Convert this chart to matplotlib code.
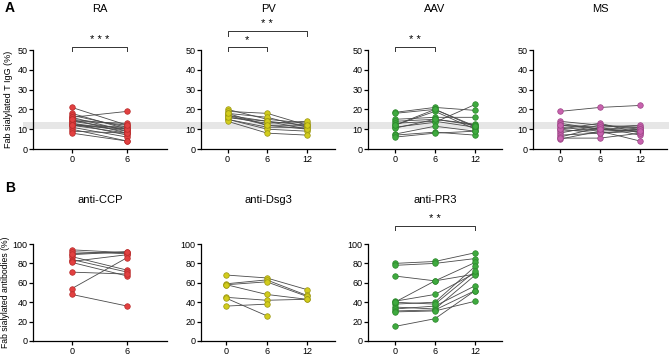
import numpy as np
import matplotlib
matplotlib.use("Agg")
import matplotlib.pyplot as plt
import matplotlib.transforms as mtransforms
from matplotlib.patches import Rectangle

plt.rcParams['font.family'] = ['Liberation Sans', 'DejaVu Sans']

# ---------------------------
# Data
# ---------------------------
# each row = one patient, columns = months
ra_months = [0, 6]
ra_vals = [[21, 12], [18, 10], [17, 11], [16, 19], [16, 9], [15, 8], [14, 13],
           [14, 10], [13, 9], [13, 7], [12, 11], [12, 8], [11, 6], [10, 4],
           [9, 8], [8, 4], [12, 10], [15, 12]]

pv_months = [0, 6, 12]
pv_vals = [[20, 15, 13], [19, 18, 12], [18, 16, 11], [17, 14, 12], [17, 12, 10],
           [16, 13, 14], [15, 11, 11], [15, 10, 9], [14, 8, 7], [16, 14, 10],
           [18, 12, 12]]

aav_months = [0, 6, 12]
aav_vals = [[18.5, 21, 19.5], [18, 20, 11], [15, 16, 16], [14, 15, 12.5],
            [13, 14, 11], [12, 19, 10], [11, 13.5, 22.5], [10.5, 15, 12],
            [7.5, 11.5, 9], [7, 8.5, 7], [6, 8, 9], [12, 20, 11.5]]

ms_months = [0, 6, 12]
ms_vals = [[19, 21, 22], [14, 12, 11], [13, 10, 9], [12, 11, 12], [11, 9, 10],
           [10, 13, 8], [9, 10, 11], [8, 12, 10], [7, 8, 9], [6, 11, 7],
           [5, 9, 4], [5.5, 5.5, 8], [10, 8, 10], [12, 10, 9]]

ccp_months = [0, 6]
ccp_vals = [[94, 91], [92, 90], [89, 92], [87, 73], [84, 71], [82, 89],
            [81, 67], [71, 69], [54, 86], [48, 36], [90, 92]]

dsg3_months = [0, 6, 12]
dsg3_vals = [[68, 65, 53], [59, 63, 47], [58, 61, 46], [58, 48, 43],
             [45, 42, 43], [44, 26, np.nan], [36, 38, np.nan]]

pr3_months = [0, 6, 12]
pr3_vals = [[80, 82, 91], [78, 80, 85], [67, 62, 69], [41, 48, 70],
            [40, 62, 81], [38, 40, 77], [35, 33, 68], [33, 36, 57],
            [31, 32, 52], [30, 31, 41], [15, 23, 52], [40, 38, 72]]

normal_range = (10, 13.8)

# (from, to, label, level) level 0 = low bracket, 1 = high bracket
sig_A = {'RA': [(0, 6, '* * *', 0)],
         'PV': [(0, 6, '*', 0), (0, 12, '* *', 1)],
         'AAV': [(0, 6, '* *', 0)],
         'MS': []}

# ---------------------------
# Layout
# ---------------------------
W, H = 669, 357
fig = plt.figure(figsize=(W / 100, H / 100), dpi=100)


def px_axes(left, top, width, height):
    return fig.add_axes([left / W, 1 - (top + height) / H, width / W, height / H])


lefts = [33, 201, 368, 533]
axw = 134

panels_A = [('RA', ra_months, ra_vals, '#E24040', '#B82A2A', (-4.2, 10.3)),
            ('PV', pv_months, pv_vals, '#D2CC1C', '#9A9612', (-4.0, 16.2)),
            ('AAV', aav_months, aav_vals, '#3FAA3F', '#2A862A', (-4.0, 16.0)),
            ('MS', ms_months, ms_vals, '#C862AE', '#9C4486', (-4.0, 16.0))]

panels_B = [('anti-CCP', ccp_months, ccp_vals, '#E24040', '#B82A2A', (-4.2, 10.3)),
            ('anti-Dsg3', dsg3_months, dsg3_vals, '#D2CC1C', '#9A9612', (-3.8, 16.2)),
            ('anti-PR3', pr3_months, pr3_vals, '#3FAA3F', '#2A862A', (-4.0, 16.0))]


def style_axis(ax, months, xlim, ylim, yticks):
    ax.set_facecolor('none')
    ax.set_xlim(*xlim)
    ax.set_ylim(*ylim)
    ax.set_xticks(months)
    ax.set_yticks(yticks)
    for s in ['top', 'right']:
        ax.spines[s].set_visible(False)
    for s in ['left', 'bottom']:
        ax.spines[s].set_linewidth(0.9)
    ax.tick_params(labelsize=6.5, length=3, width=0.9, pad=1)


def draw_pairs(ax, months, vals, fc, ec):
    for row in vals:
        ax.plot(months, row, color='#4a4a4a', lw=0.6, zorder=2, clip_on=False)
    for row in vals:
        ax.plot(months, row, ls='none', marker='o', ms=4, mfc=fc, mec=ec,
                mew=0.5, zorder=3, clip_on=False)


def bracket(ax, x0, x1, y, drop, label, tsize=8):
    ax.plot([x0, x0, x1, x1], [y - drop, y, y, y - drop], color='#333333',
            lw=0.7, clip_on=False)
    ax.text((x0 + x1) / 2, y + drop * 0.5, label, ha='center', va='bottom',
            fontsize=tsize, clip_on=False)


axes_A = []
for i, (name, months, vals, fc, ec, xlim) in enumerate(panels_A):
    ax = px_axes(lefts[i], 50, axw, 99)
    axes_A.append(ax)
    style_axis(ax, months, xlim, (0, 50), [0, 10, 20, 30, 40, 50])
    draw_pairs(ax, months, vals, fc, ec)
    fig.text((lefts[i] + axw / 2) / W, 1 - 9 / H, name, ha='center',
             va='center', fontsize=8)
    for x0, x1, lab, lvl in sig_A[name]:
        bracket(ax, x0, x1, 51.5 if lvl == 0 else 59.5, 2.2, lab)

axes_A[0].set_ylabel('Fab sialylated T IgG (%)', fontsize=6.5, labelpad=3)

# reference band (healthy range) across the whole row
trans = mtransforms.blended_transform_factory(fig.transFigure, axes_A[0].transData)
fig.patches.append(Rectangle((23 / W, normal_range[0]), 1 - 23 / W,
                             normal_range[1] - normal_range[0], transform=trans,
                             color='#e6e6e6', lw=0, zorder=-5))

axes_B = []
for i, (name, months, vals, fc, ec, xlim) in enumerate(panels_B):
    ax = px_axes(lefts[i], 244, axw, 97)
    axes_B.append(ax)
    style_axis(ax, months, xlim, (0, 100), [0, 20, 40, 60, 80, 100])
    draw_pairs(ax, months, vals, fc, ec)
    fig.text((lefts[i] + axw / 2) / W, 1 - 200 / H, name, ha='center',
             va='center', fontsize=8)

bracket(axes_B[2], 0, 12, 118.5, 4.5, '* *')
axes_B[0].set_ylabel('Fab sialylated antibodies (%)', fontsize=6.2, labelpad=2)

fig.text(5 / W, 1 - 8 / H, 'A', fontsize=10, fontweight='bold', va='center')
fig.text(5 / W, 1 - 188 / H, 'B', fontsize=10, fontweight='bold', va='center')

fig.savefig('out.png', dpi=100)
